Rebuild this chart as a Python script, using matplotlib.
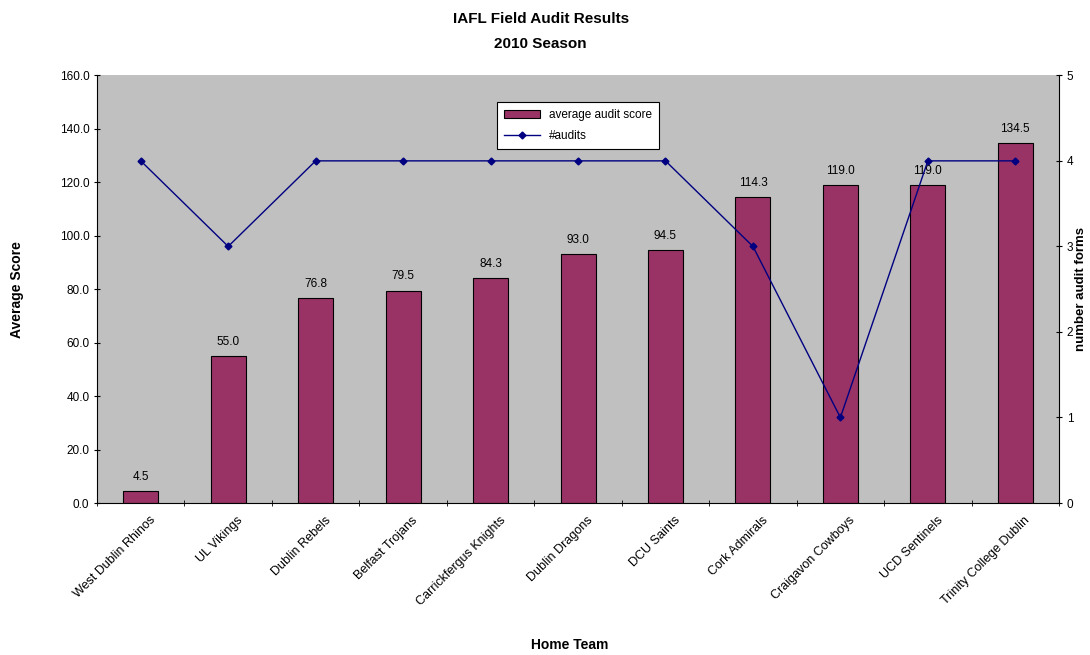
import matplotlib.pyplot as plt
import numpy as np

# team names + scores
teams = ['West Dublin Rhinos', 'UL Vikings', 'Dublin Rebels', 'Belfast Trojans',
         'Carrickfergus Knights', 'Dublin Dragons', 'DCU Saints', 'Cork Admirals',
         'Craigavon Cowboys', 'UCD Sentinels', 'Trinity College Dublin']
avg_score = [4.5, 55.0, 76.8, 79.5, 84.3, 93.0, 94.5, 114.3, 119.0, 119.0, 134.5]
n_audits = [4, 3, 4, 4, 4, 4, 4, 3, 1, 4, 4]

plt.rcParams['font.family'] = ['Liberation Sans', 'DejaVu Sans']

fig = plt.figure(figsize=(10.9, 6.55), dpi=100)
ax = fig.add_axes([0.089, 0.232, 0.8826, 0.653])
ax.set_facecolor('#C0C0C0')

x = np.arange(len(teams))
bars = ax.bar(x, avg_score, width=0.4, color='#993366', edgecolor='black',
              linewidth=0.8, label='average audit score', zorder=2)
for xi, v in zip(x, avg_score):
    ax.text(xi, v + 3, '%.1f' % v, ha='center', va='bottom', fontsize=8.5)

ax.set_xlim(-0.5, len(teams) - 0.5)
ax.set_ylim(0, 160)
ax.set_yticks(np.arange(0, 161, 20))
ax.set_yticklabels(['%.1f' % t for t in np.arange(0, 161, 20)], fontsize=8.5)
ax.set_xticks(x + 0.1)
ax.set_xticklabels(teams, rotation=45, ha='right', rotation_mode='anchor', fontsize=9)
# ticks sit between categories in the original
ax.set_xticks(np.arange(-0.5, len(teams)), minor=True)
ax.tick_params(axis='x', which='major', length=0, pad=8)
ax.tick_params(axis='x', which='minor', length=5, direction='inout')
ax.tick_params(axis='y', length=4, direction='inout')
ax.set_ylabel('Average Score', fontsize=10, fontweight='bold', labelpad=26)
for s in ['top', 'right']:
    ax.spines[s].set_visible(False)

ax2 = ax.twinx()
ln, = ax2.plot(x, n_audits, color='#000080', marker='D', markersize=3.5,
               linewidth=1, label='#audits')
ax2.set_ylim(0, 5)
ax2.set_yticks(range(0, 6))
ax2.tick_params(axis='y', labelsize=8.5, length=4, direction='inout')
ax2.set_ylabel('number audit forms', fontsize=9.5, fontweight='bold', labelpad=1)
for s in ['top', 'left', 'bottom']:
    ax2.spines[s].set_visible(False)

leg = ax2.legend([bars, ln], ['average audit score', '#audits'],
                 loc='upper left', bbox_to_anchor=(0.41, 0.952), fontsize=8.5,
                 fancybox=False, framealpha=1, edgecolor='black',
                 handlelength=3, borderpad=0.6, labelspacing=0.8)
leg.get_frame().set_linewidth(0.8)

fig.text(0.496, 0.965, 'IAFL Field Audit Results', ha='center', fontsize=11, fontweight='bold')
fig.text(0.496, 0.927, '2010 Season', ha='center', fontsize=11, fontweight='bold')
fig.text(0.523, 0.005, 'Home Team', ha='center', va='bottom', fontsize=10, fontweight='bold')

fig.savefig('out.png', dpi=100)
